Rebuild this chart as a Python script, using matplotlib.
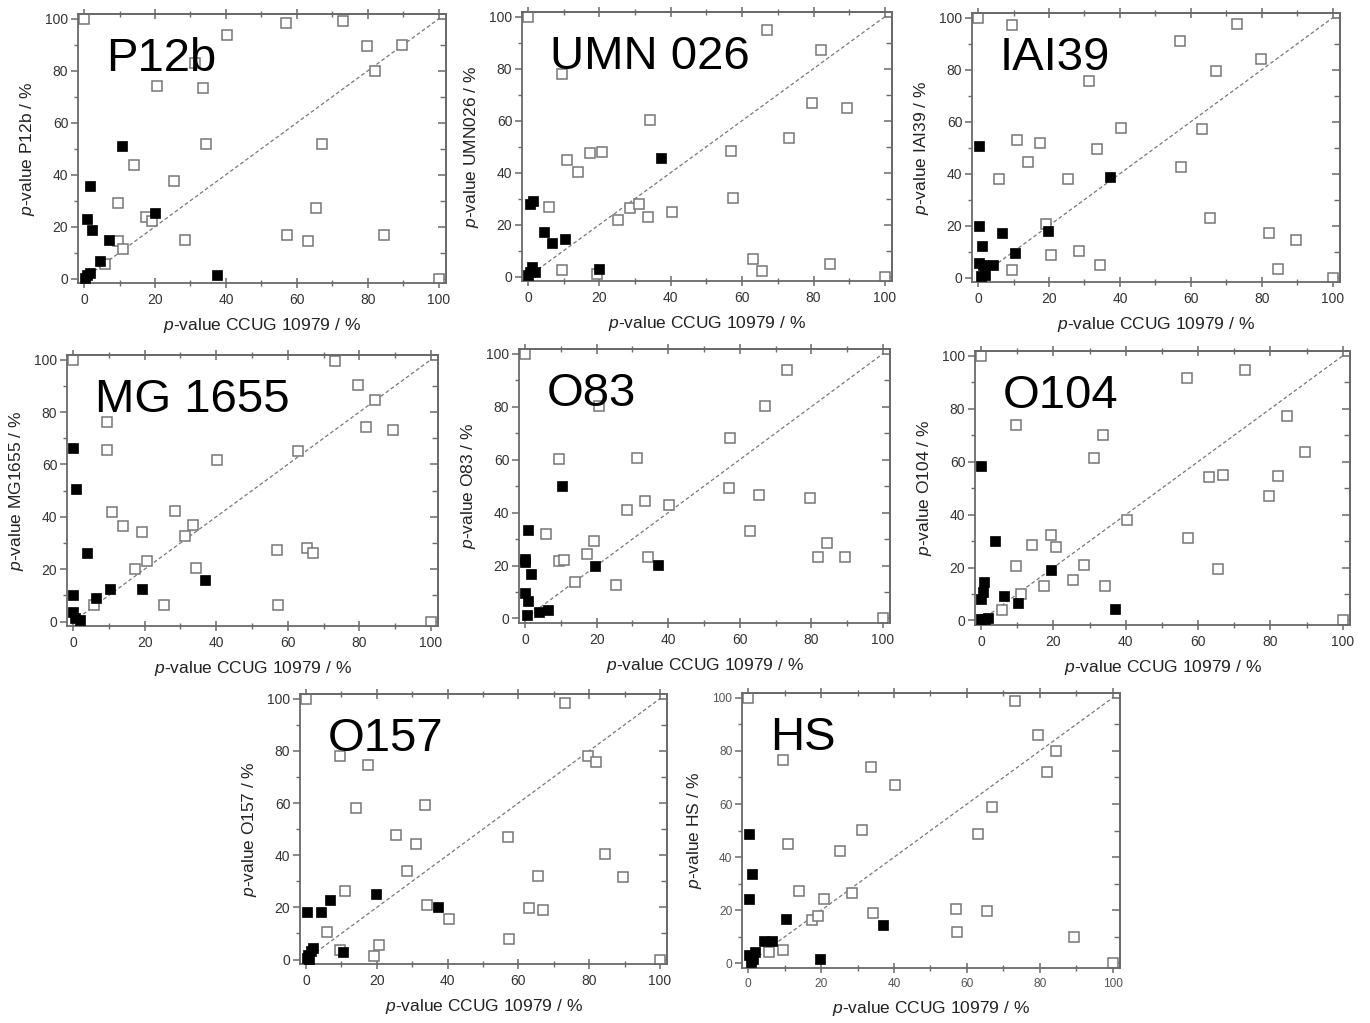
import matplotlib
matplotlib.use('Agg')
import matplotlib.pyplot as plt
from matplotlib.ticker import MultipleLocator

plt.rcParams['font.family'] = ['Liberation Sans', 'DejaVu Sans']
plt.rcParams['mathtext.fontset'] = 'custom'
plt.rcParams['mathtext.it'] = 'Liberation Sans:italic'
plt.rcParams['mathtext.rm'] = 'Liberation Sans'

# ---------------- data ----------------
# p-values of CCUG 10979 (x) shared by all panels, open squares
OPEN_X = [5.8, 9.5, 9.5, 10.9, 14.0, 17.4, 19.2, 20.7, 25.3, 28.5, 31.2, 33.6,
          34.3, 40.3, 57.0, 57.3, 63.0, 65.5, 67.0, 73.1, 79.6, 82.0, 84.5, 89.5]
CORNER_X = [0, 100]
CORNER_Y = [100, 0]
DIAG = [0, 100]

P12B_OPEN_Y = [5.8, 29.2, 14.4, 11.3, 43.6, 23.6, 22.2, 74.0, 37.6, 15.0, 82.9, 73.2,
               51.7, 93.7, 98.3, 16.8, 14.4, 27.3, 51.9, 99.1, 89.4, 80.0, 16.8, 89.9]
UMN026_OPEN_Y = [26.7, 78.0, 2.7, 44.8, 40.3, 47.7, 0.9, 48.0, 21.9, 26.2, 28.1, 22.8,
                 60.2, 24.8, 48.4, 30.1, 6.7, 2.1, 94.8, 53.2, 66.8, 87.0, 4.7, 64.7]
IAI39_OPEN_Y = [38.0, 97.1, 2.9, 52.9, 44.6, 51.8, 20.5, 8.5, 37.9, 10.1, 75.8, 49.4,
                4.7, 57.6, 91.1, 42.5, 57.1, 22.8, 79.4, 97.7, 84.1, 17.3, 3.3, 14.3]
MG1655_OPEN_Y = [6.3, 76.2, 65.5, 41.8, 36.6, 19.9, 34.3, 23.0, 6.2, 42.2, 32.7, 36.8,
                 20.3, 61.8, 27.4, 6.5, 65.1, 27.9, 26.0, 99.4, 90.3, 74.3, 84.5, 73.3]
O83_OPEN_Y = [31.9, 60.3, 21.7, 22.2, 13.9, 24.2, 29.4, 80.3, 12.6, 41.1, 60.5, 44.3,
              23.3, 43.0, 49.4, 68.1, 33.1, 46.8, 80.3, 94.0, 45.5, 23.3, 28.4, 23.3]
O104_OPEN_Y = [3.9, 74.0, 20.5, 10.0, 28.4, 13.0, 32.3, 27.9, 15.4, 21.1, 61.5, 70.0,
               13.2, 38.0, 91.6, 31.3, 54.3, 19.3, 54.8, 94.6, 47.1, 54.5, 77.3, 63.8]
O157_OPEN_Y = [10.6, 78.2, 3.7, 26.2, 58.2, 74.4, 1.4, 5.4, 47.9, 33.8, 44.3, 59.4,
               21.0, 15.4, 47.0, 7.8, 19.9, 32.2, 18.9, 98.3, 78.2, 75.8, 40.3, 31.7]
HS_OPEN_Y = [4.3, 76.4, 5.1, 45.1, 27.2, 16.5, 17.9, 24.1, 42.4, 26.6, 50.2, 73.9,
             19.1, 67.3, 20.4, 11.8, 48.8, 19.9, 58.9, 98.8, 86.0, 71.9, 80.1, 9.8]

# filled squares
P12B_FILL_X = [0.2, 0.7, 0.7, 1.6, 1.6, 2.3, 4.5, 7.0, 10.6, 20.0, 37.4]
P12B_FILL_Y = [0.3, 1.3, 22.8, 2.3, 35.5, 18.7, 6.9, 14.9, 50.9, 25.1, 1.3]
UMN026_FILL_X = [0.0, 0.5, 0.5, 1.1, 1.4, 2.0, 4.4, 6.8, 10.4, 19.8, 37.3]
UMN026_FILL_Y = [0.6, 1.9, 28.1, 3.8, 29.1, 1.9, 17.3, 12.8, 14.3, 3.0, 45.8]
IAI39_FILL_X = [0.2, 0.2, 1.1, 0.2, 1.4, 0.7, 2.1, 4.2, 6.8, 10.3, 19.7, 37.1]
IAI39_FILL_Y = [50.6, 19.7, 12.2, 5.5, 4.7, 0.6, 1.0, 4.7, 17.3, 9.4, 18.0, 38.6]
MG1655_FILL_X = [0.0, 0.9, 4.0, 0.0, 6.5, 10.2, 19.4, 36.9, 0.0, 0.6, 1.9]
MG1655_FILL_Y = [66.4, 50.7, 26.2, 10.3, 9.1, 12.4, 12.4, 15.8, 3.7, 1.4, 0.6]
O83_FILL_X = [10.3, 0.7, 0.0, 0.0, 1.7, 19.5, 37.1, 0.0, 0.9, 0.6, 3.8, 6.4]
O83_FILL_Y = [49.9, 33.3, 22.4, 21.5, 16.8, 19.9, 20.3, 9.6, 6.5, 1.5, 2.4, 3.1]
O104_FILL_X = [0.0, 3.8, 0.7, 0.6, 0.0, 6.3, 10.1, 19.4, 36.9, 0.0, 1.0, 1.9]
O104_FILL_Y = [58.2, 29.9, 14.7, 10.6, 8.1, 9.3, 6.6, 19.2, 4.4, 0.4, 0.6, 1.0]
O157_FILL_X = [0.4, 4.2, 6.8, 19.8, 37.3, 10.5, 2.1, 1.3, 0.7, 0.2, 0.8]
O157_FILL_Y = [18.1, 18.3, 22.9, 25.3, 20.2, 2.9, 4.5, 3.2, 1.9, 0.6, 0.0]
HS_FILL_X = [0.1, 1.0, 0.1, 10.3, 37.1, 4.2, 6.5, 1.8, 0.1, 0.7, 19.8, 1.2]
HS_FILL_Y = [48.6, 33.7, 24.2, 16.8, 14.4, 8.3, 8.3, 4.3, 3.1, 0.6, 1.6, 1.5]

TITLES = ['P12b', 'UMN 026', 'IAI39', 'MG 1655', 'O83', 'O104', 'O157', 'HS']
YNAMES = ['P12b', 'UMN026', 'IAI39', 'MG1655', 'O83', 'O104', 'O157', 'HS']
XLABEL = r'$\mathit{p}$-value CCUG 10979 / %'
TICKS = [0, 20, 40, 60, 80, 100]

OPEN_YS = [P12B_OPEN_Y, UMN026_OPEN_Y, IAI39_OPEN_Y, MG1655_OPEN_Y,
           O83_OPEN_Y, O104_OPEN_Y, O157_OPEN_Y, HS_OPEN_Y]
FILL_XS = [P12B_FILL_X, UMN026_FILL_X, IAI39_FILL_X, MG1655_FILL_X,
           O83_FILL_X, O104_FILL_X, O157_FILL_X, HS_FILL_X]
FILL_YS = [P12B_FILL_Y, UMN026_FILL_Y, IAI39_FILL_Y, MG1655_FILL_Y,
           O83_FILL_Y, O104_FILL_Y, O157_FILL_Y, HS_FILL_Y]

# ---------------- layout (pixel boxes: left, right, top, bottom) ----------------
W, H = 1370, 1023
BOXES = [(78, 446, 14, 283), (522, 892, 12, 281), (972, 1340, 13, 282),
         (67, 438, 355, 626), (519, 890, 349, 623), (975, 1350, 351, 625),
         (300, 667, 694, 964), (742, 1120, 693, 968)]

SPINE_C = '#6a6a6a'
OPEN_C = '#777777'
TXT_C = '#222222'

fig = plt.figure(figsize=(W / 100, H / 100), dpi=100)

for i, (l, r, t, b) in enumerate(BOXES):
    ax = fig.add_axes([l / W, 1 - b / H, (r - l) / W, (b - t) / H])
    ax.set_xlim(-1.7, 102)
    ax.set_ylim(-1.7, 101.8)
    small = (i == 7)
    tfs = 8.6 if small else 10
    tcol = '#555555' if small else '#333333'

    ax.plot(DIAG, DIAG, ls=(0, (3, 2)), color='#777777', lw=0.9, zorder=1)
    ax.plot(OPEN_X, OPEN_YS[i], 's', ms=6.6, mfc='white', mec=OPEN_C, mew=1.1,
            ls='none', zorder=2)
    ax.plot(CORNER_X, CORNER_Y, 's', ms=6.6, mfc='white', mec=OPEN_C, mew=1.1,
            ls='none', zorder=2)
    ax.plot(FILL_XS[i], FILL_YS[i], 's', ms=6.8, mfc='black', mec='black', mew=0.5,
            ls='none', zorder=3)

    for s in ax.spines.values():
        s.set_color(SPINE_C)
        s.set_linewidth(1.3)

    ax.xaxis.set_major_locator(MultipleLocator(20))
    ax.xaxis.set_minor_locator(MultipleLocator(10))
    ax.yaxis.set_major_locator(MultipleLocator(20))
    ax.yaxis.set_minor_locator(MultipleLocator(10))
    ax.tick_params(axis='x', which='major', direction='inout', length=7, width=1.1,
                   color=SPINE_C, labelsize=tfs, labelcolor=tcol, pad=4)
    ax.tick_params(axis='x', which='minor', direction='inout', length=4, width=1.0,
                   color=SPINE_C)
    ax.tick_params(axis='y', which='major', direction='out', length=5, width=1.1,
                   color=SPINE_C, labelsize=tfs, labelcolor=tcol, pad=2)
    ax.tick_params(axis='y', which='minor', direction='out', length=3, width=1.0,
                   color=SPINE_C)
    ax.set_xticks(TICKS)
    ax.set_yticks(TICKS)

    top = ax.secondary_xaxis('top')
    top.xaxis.set_major_locator(MultipleLocator(20))
    top.xaxis.set_minor_locator(MultipleLocator(10))
    top.tick_params(which='major', direction='inout', length=7, width=1.1,
                    color=SPINE_C, labeltop=False)
    top.tick_params(which='minor', direction='inout', length=4, width=1.0,
                    color=SPINE_C)
    top.spines['top'].set_color(SPINE_C)
    top.spines['top'].set_linewidth(1.3)

    right = ax.secondary_yaxis('right')
    right.yaxis.set_major_locator(MultipleLocator(20))
    right.yaxis.set_minor_locator(MultipleLocator(10))
    right.tick_params(which='major', direction='in', length=6, width=1.1,
                      color=SPINE_C, labelright=False)
    right.tick_params(which='minor', direction='in', length=4, width=1.0,
                      color=SPINE_C)
    right.spines['right'].set_color(SPINE_C)
    right.spines['right'].set_linewidth(1.3)

    ax.set_xlabel(XLABEL, fontsize=12.5, color=TXT_C, labelpad=6)
    ax.set_ylabel(r'$\mathit{p}$-value ' + YNAMES[i] + ' / %', fontsize=12.5,
                  color=TXT_C, labelpad=6)

    wpx, hpx = (r - l), (b - t)
    ax.text(28 / wpx, 1 - 57 / hpx, TITLES[i], transform=ax.transAxes,
            fontsize=34, ha='left', va='baseline', color='black', zorder=5)

fig.savefig('out.png', dpi=100)
